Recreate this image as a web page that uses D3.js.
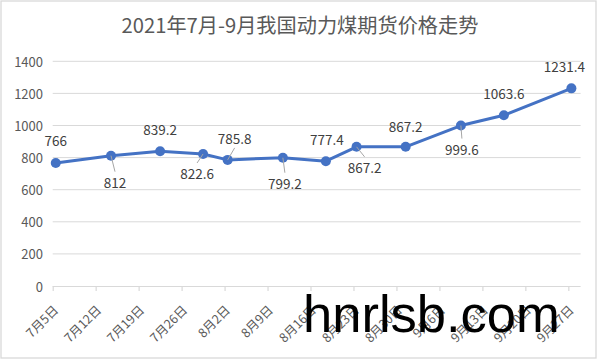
<!DOCTYPE html>
<html>
<head>
<meta charset="utf-8">
<script src="https://cdn.jsdelivr.net/npm/d3@7"></script>
<style>
html,body{margin:0;padding:0;background:#fff;}
svg{display:block;}
</style>
</head>
<body>
<svg id="chart" width="600" height="361"></svg>
<script>
// ---- data ----
const title = "2021年7月-9月我国动力煤期货价格走势";
const dates = ["2021-07-05","2021-07-14","2021-07-22","2021-07-29","2021-08-02","2021-08-11",
               "2021-08-18","2021-08-23","2021-08-31","2021-09-09","2021-09-16","2021-09-27"];
const values = [766, 812, 839.2, 822.6, 785.8, 799.2, 777.4, 867.2, 867.2, 999.6, 1063.6, 1231.4];
const tickDates = ["2021-07-05","2021-07-12","2021-07-19","2021-07-26","2021-08-02","2021-08-09",
                   "2021-08-16","2021-08-23","2021-08-30","2021-09-06","2021-09-13","2021-09-20","2021-09-27"];
const tickLabels = ["7月5日","7月12日","7月19日","7月26日","8月2日","8月9日","8月16日",
                    "8月23日","8月30日","9月6日","9月13日","9月20日","9月27日"];
const yTicks = [0, 200, 400, 600, 800, 1000, 1200, 1400];
const watermark = "hnrlsb.com";

// ---- label placement (layout) ----
const labelDx = [0, 4, 0, -6, 7, 2, 1, 8, 0, 1, 0, -7];
const labelDy = [-23, 26, -22, 19, -22, 25, -22, 20, -21, 23, -22, -22];
const labelLeader = [false, true, false, true, true, true, false, true, false, true, false, false];

const parse = d3.utcParse("%Y-%m-%d");
const halfDay = 12 * 3600 * 1000;
const svg = d3.select("#chart");
const FONT = "'Noto Sans CJK SC', 'Noto Sans', sans-serif";

// border
svg.append("rect").attr("x", 1).attr("y", 1).attr("width", 595).attr("height", 357)
  .attr("fill", "#fff").attr("stroke", "#d9d9d9").attr("stroke-width", 1.3);

const x = d3.scaleUtc()
  .domain([parse("2021-07-05"), parse("2021-09-29")])
  .range([52.7, 580.6]);
const y = d3.scaleLinear().domain([0, 1400]).range([286, 61.3]);

// gridlines
svg.append("g").selectAll("line").data(yTicks.filter(v => v > 0)).join("line")
  .attr("x1", 52.7).attr("x2", 580.6)
  .attr("y1", d => y(d)).attr("y2", d => y(d))
  .attr("stroke", "#d9d9d9").attr("stroke-width", 1);

// y axis labels
svg.append("g").selectAll("text").data(yTicks).join("text")
  .attr("x", 43).attr("y", d => y(d))
  .attr("text-anchor", "end").attr("dominant-baseline", "central")
  .attr("font-family", FONT).attr("font-size", 13).attr("fill", "#595959")
  .text(d => d);

// x axis
const xAxis = d3.axisBottom(x)
  .tickValues(tickDates.map(parse))
  .tickSize(5)
  .tickFormat((d, i) => tickLabels[i]);
const gx = svg.append("g").attr("transform", "translate(0,286)").call(xAxis);
gx.select(".domain").attr("stroke", "#d9d9d9").attr("stroke-width", 1.2)
  .attr("d", "M52.7,0.5H580.6");
gx.selectAll(".tick line").attr("stroke", "#d9d9d9").attr("stroke-width", 1.2);
gx.selectAll(".tick text")
  .attr("font-family", FONT).attr("font-size", 12.5).attr("fill", "#595959")
  .attr("text-anchor", "end").attr("dominant-baseline", "central")
  .attr("y", 0).attr("dy", null)
  .attr("transform", "translate(2,21) rotate(-45)");

// line
const pts = dates.map((d, i) => ({ t: new Date(parse(d).getTime() + halfDay), v: values[i], i }));
const line = d3.line().x(d => x(d.t)).y(d => y(d.v));
svg.append("path").datum(pts)
  .attr("d", line).attr("fill", "none")
  .attr("stroke", "#4472c4").attr("stroke-width", 3).attr("stroke-linejoin", "round");
svg.append("g").selectAll("circle").data(pts).join("circle")
  .attr("cx", d => x(d.t)).attr("cy", d => y(d.v)).attr("r", 5)
  .attr("fill", "#4472c4");

// leaders
svg.append("g").selectAll("line").data(pts.filter(d => labelLeader[d.i])).join("line")
  .attr("x1", d => x(d.t)).attr("y1", d => y(d.v))
  .attr("x2", d => x(d.t) + labelDx[d.i])
  .attr("y2", d => y(d.v) + labelDy[d.i] - Math.sign(labelDy[d.i]) * 10)
  .attr("stroke", "#a6a6a6").attr("stroke-width", 1);

// data labels
svg.append("g").selectAll("text").data(pts).join("text")
  .attr("x", d => x(d.t) + labelDx[d.i])
  .attr("y", d => y(d.v) + labelDy[d.i])
  .attr("text-anchor", "middle").attr("dominant-baseline", "central")
  .attr("font-family", FONT).attr("font-size", 13.5).attr("fill", "#404040")
  .text(d => d.v);

// title
svg.append("text").attr("x", 300).attr("y", 24.5)
  .attr("text-anchor", "middle").attr("dominant-baseline", "central")
  .attr("font-family", FONT).attr("font-size", 20.2).attr("fill", "#595959")
  .text(title);

// watermark
svg.append("text").attr("x", 303).attr("y", 332)
  .attr("font-family", "'Liberation Sans', Arial, sans-serif").attr("font-size", 52.5)
  .attr("fill", "#000").text(watermark);
</script>
</body>
</html>
